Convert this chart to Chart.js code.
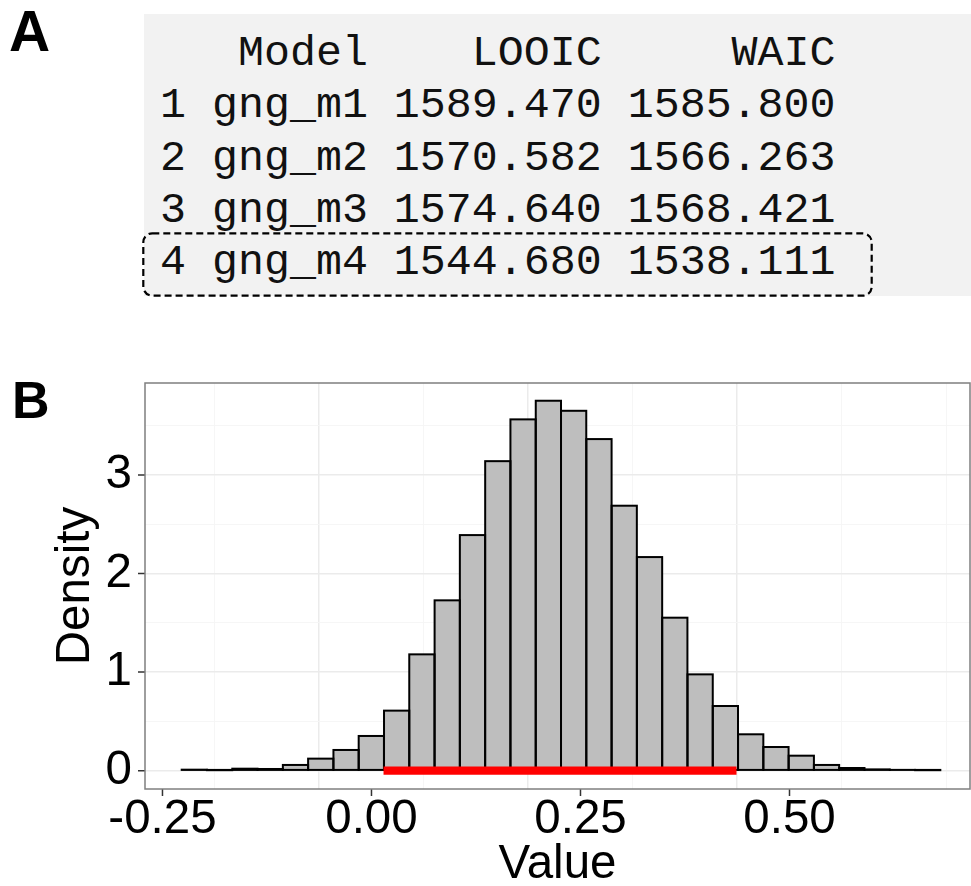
<!DOCTYPE html>
<html>
<head>
<meta charset="utf-8">
<script src="https://cdn.jsdelivr.net/npm/chart.js@4.4.1/dist/chart.umd.min.js"></script>
<style>
  html, body { margin: 0; padding: 0; background: #fff; }
  body { width: 971px; height: 886px; position: relative; overflow: hidden; }
  .tag { position: absolute; font-family: "Liberation Sans", Arial, sans-serif; font-weight: bold; color: #000; }
  #tableBox { position: absolute; left: 144px; top: 14px; width: 827px; height: 282px; background: #f2f2f2; }
  #tableText {
    position: absolute; left: 160px; top: 28px; margin: 0;
    font-family: "Liberation Mono", "Courier New", monospace; font-size: 43.3px; line-height: 52.3px; color: #111;
  }
  #highlight { position: absolute; left: 142px; top: 232px; }
  #chartWrap { position: absolute; left: 0; top: 330px; width: 971px; height: 556px; }
</style>
</head>
<body>
<div class="tag" style="left:9px; top:3px; font-size:57px; line-height:57px;">A</div>
<div id="tableBox"></div>
<pre id="tableText"></pre>
<svg id="highlight" width="732" height="66">
  <rect x="1.3" y="1.3" width="728.4" height="62.4" rx="9" ry="9" fill="none" stroke="#000" stroke-width="2.2" stroke-dasharray="7 4"/>
</svg>
<div class="tag" style="left:12px; top:374px; font-size:52px; line-height:52px;">B</div>
<div id="chartWrap"><canvas id="histChart" width="971" height="556"></canvas></div>

<script>
// Panel A: model comparison table
const rowIds = ['1', '2', '3', '4'];
const modelNames = ['gng_m1', 'gng_m2', 'gng_m3', 'gng_m4'];
const looicValues = [1589.470, 1570.582, 1574.640, 1544.680];
const waicValues = [1585.800, 1566.263, 1568.421, 1538.111];

// Panel B: posterior histogram (bin centers and densities)
const binCenters = [-0.2119, -0.1817, -0.1514, -0.1212, -0.0909, -0.0607, -0.0304, -0.0002,
  0.0301, 0.0603, 0.0906, 0.1208, 0.1511, 0.1813, 0.2116, 0.2418, 0.2721, 0.3023, 0.3326,
  0.3628, 0.3931, 0.4233, 0.4536, 0.4838, 0.5141, 0.5443, 0.5746, 0.6048, 0.6351, 0.6653];
const densities = [0.010, 0.005, 0.020, 0.017, 0.058, 0.122, 0.210, 0.352, 0.609, 1.180,
  1.728, 2.390, 3.140, 3.564, 3.753, 3.651, 3.364, 2.688, 2.167, 1.552,
  0.977, 0.656, 0.369, 0.240, 0.152, 0.058, 0.027, 0.013, 0.008, 0.005];
// highest density interval shown as a red bar
const hdiLimits = [0.0144, 0.4366];

const xMajorTicks = [-0.25, 0, 0.25, 0.5];
const xTickLabels = ['-0.25', '0.00', '0.25', '0.50'];
const xMinorTicks = [-0.125, 0.125, 0.375, 0.625];
const yMajorTicks = [0, 1, 2, 3];
const yTickLabels = ['0', '1', '2', '3'];
const yMinorTicks = [0.5, 1.5, 2.5, 3.5];

// build the printed table
const header = ' ' + ' ' + 'Model'.padStart(6) + ' ' + 'LOOIC'.padStart(8) + ' ' + 'WAIC'.padStart(8);
const lines = rowIds.map((id, i) =>
  id + ' ' + modelNames[i].padStart(6) + ' ' + looicValues[i].toFixed(3).padStart(8) + ' ' + waicValues[i].toFixed(3).padStart(8));
document.getElementById('tableText').textContent = [header, ...lines].join('\n');

Chart.defaults.font.family = '"Liberation Sans", Arial, sans-serif';
Chart.defaults.color = '#000';

const isMajor = (list, c) => !!c.tick && list.some(t => Math.abs(t - c.tick.value) < 1e-9);

// stroke each bar like ggplot does (line centred on the bar edges)
const barOutline = {
  id: 'barOutline',
  afterDatasetDraw(chart, args) {
    if (args.index !== 0) return;
    const ctx = chart.ctx;
    ctx.save();
    ctx.strokeStyle = '#000';
    ctx.lineWidth = 2;
    args.meta.data.forEach(el => {
      const { x, y, base, width } = el.getProps(['x', 'y', 'base', 'width'], true);
      ctx.strokeRect(x - width / 2, y, width, base - y);
    });
    ctx.restore();
  }
};

// panel border and the major tick marks outside it
const panelFrame = {
  id: 'panelFrame',
  afterDraw(chart) {
    const { left, top, right, bottom } = chart.chartArea;
    const { x, y } = chart.scales;
    const ctx = chart.ctx;
    ctx.save();
    ctx.strokeStyle = '#333';
    ctx.lineWidth = 1.5;
    ctx.beginPath();
    xMajorTicks.forEach(v => {
      const px = x.getPixelForValue(v);
      ctx.moveTo(px, bottom);
      ctx.lineTo(px, bottom + 7);
    });
    yMajorTicks.forEach(v => {
      const py = y.getPixelForValue(v);
      ctx.moveTo(left, py);
      ctx.lineTo(left - 7, py);
    });
    ctx.stroke();
    ctx.strokeStyle = '#7f7f7f';
    ctx.strokeRect(left, top, right - left, bottom - top);
    ctx.restore();
  }
};

new Chart(document.getElementById('histChart'), {
  type: 'bar',
  data: {
    datasets: [
      {
        type: 'bar',
        data: binCenters.map((x, i) => ({ x, y: densities[i] })),
        backgroundColor: '#bebebe',
        borderWidth: 0,
        barPercentage: 1,
        categoryPercentage: 1,
        grouped: false,
        order: 2
      },
      {
        type: 'line',
        data: hdiLimits.map(x => ({ x, y: 0 })),
        borderColor: '#ff0000',
        borderWidth: 8.3,
        borderCapStyle: 'butt',
        pointRadius: 0,
        order: 1
      }
    ]
  },
  options: {
    responsive: false,
    animation: false,
    devicePixelRatio: 1,
    layout: { padding: { top: 53, left: 0, right: 1, bottom: 0 } },
    plugins: { legend: { display: false }, tooltip: { enabled: false } },
    scales: {
      x: {
        type: 'linear',
        offset: false,
        min: -0.2709,
        max: 0.7159,
        afterBuildTicks: s => { s.ticks = [...xMajorTicks, ...xMinorTicks].sort((a, b) => a - b).map(v => ({ value: v })); },
        afterFit: s => { s.height = 97; },
        ticks: {
          autoSkip: false,
          maxRotation: 0,
          padding: 0,
          font: { size: 47.5, lineHeight: 1 },
          callback: v => { const k = xMajorTicks.findIndex(t => Math.abs(t - v) < 1e-9); return k >= 0 ? xTickLabels[k] : ''; }
        },
        grid: {
          color: c => isMajor(xMajorTicks, c) ? '#ebebeb' : '#f5f5f5',
          lineWidth: c => isMajor(xMajorTicks, c) ? 1.5 : 0.9,
          tickColor: 'rgba(0,0,0,0)',
          tickLength: 7
        },
        border: { display: false },
        title: { display: true, text: 'Value', font: { size: 47.5, lineHeight: 0.9 }, padding: 0 }
      },
      y: {
        type: 'linear',
        min: -0.186,
        max: 3.933,
        afterBuildTicks: s => { s.ticks = [...yMajorTicks, ...yMinorTicks].sort((a, b) => a - b).map(v => ({ value: v })); },
        afterFit: s => { s.width = 145; },
        ticks: {
          autoSkip: false,
          padding: 6,
          font: { size: 47.5, lineHeight: 1 },
          callback: v => { const k = yMajorTicks.findIndex(t => Math.abs(t - v) < 1e-9); return k >= 0 ? yTickLabels[k] : ''; }
        },
        grid: {
          color: c => isMajor(yMajorTicks, c) ? '#ebebeb' : '#f5f5f5',
          lineWidth: c => isMajor(yMajorTicks, c) ? 1.5 : 0.9,
          tickColor: 'rgba(0,0,0,0)',
          tickLength: 7
        },
        border: { display: false },
        title: { display: true, text: 'Density', font: { size: 47.5 }, padding: { top: 47, bottom: 0 } }
      }
    }
  },
  plugins: [barOutline, panelFrame]
});
</script>
</body>
</html>
